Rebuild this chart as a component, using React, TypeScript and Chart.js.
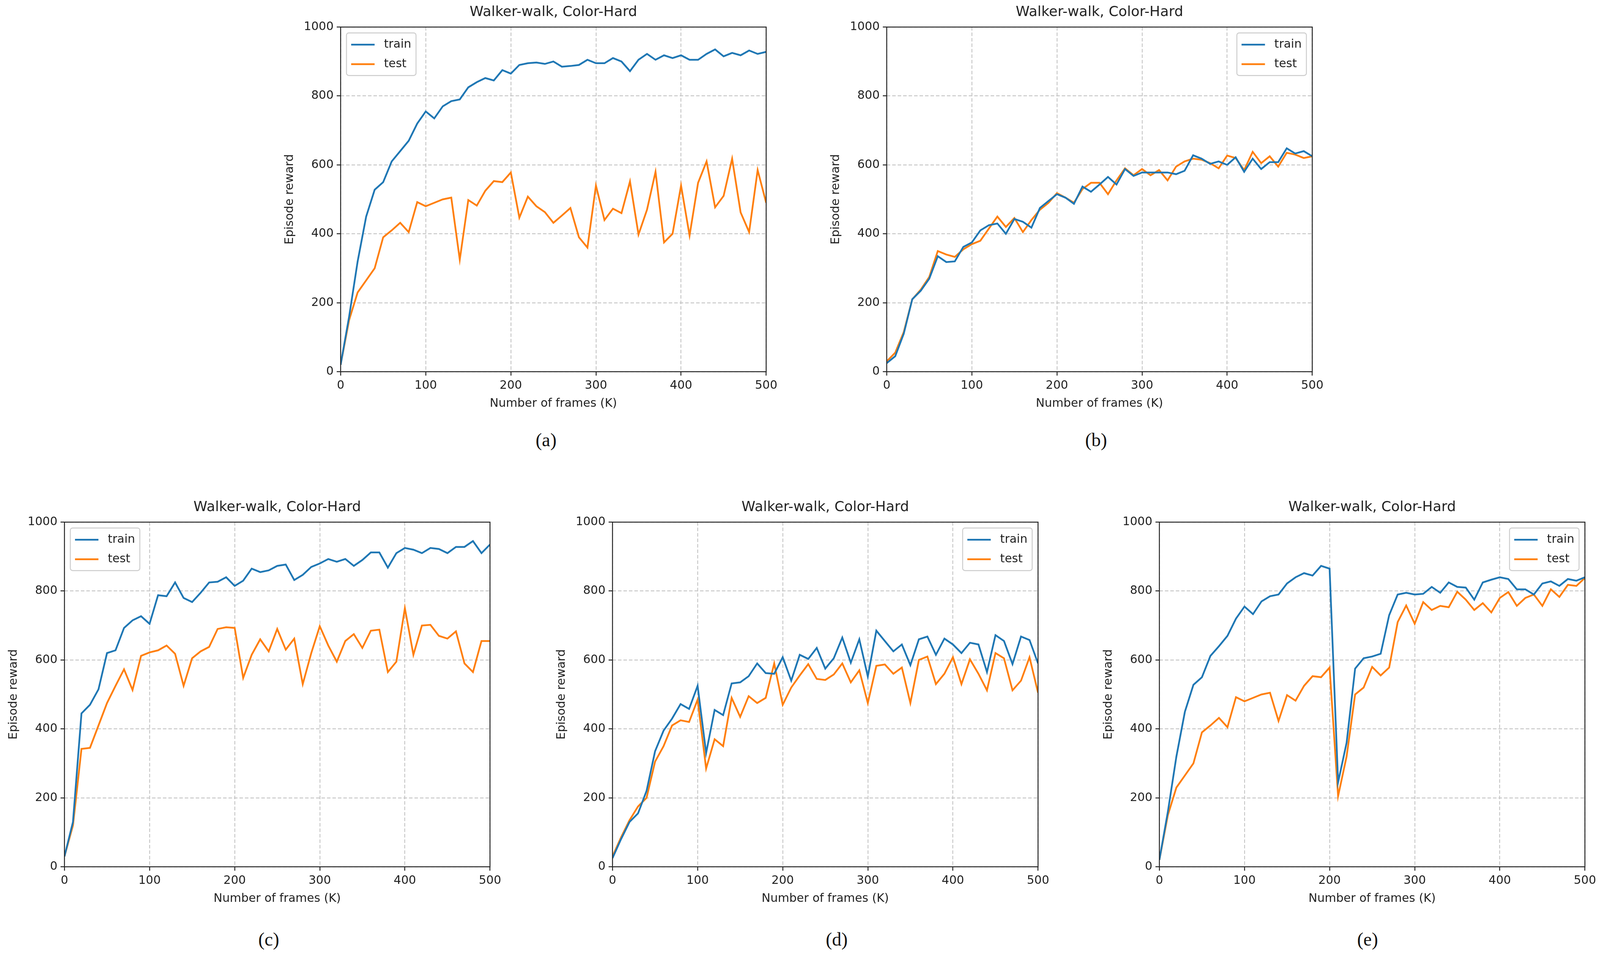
import { useEffect, useRef } from 'react'
import { Chart, ChartConfiguration, registerables } from 'chart.js'

Chart.register(...registerables)

// frames (K) on the x axis, one point every 10K
const frames = [
  0, 10, 20, 30, 40, 50, 60, 70, 80, 90, 100, 110, 120, 130, 140, 150, 160, 170, 180, 190,
  200, 210, 220, 230, 240, 250, 260, 270, 280, 290, 300, 310, 320, 330, 340, 350, 360, 370,
  380, 390, 400, 410, 420, 430, 440, 450, 460, 470, 480, 490, 500,
]

const trainA = [
  20, 160, 320, 450, 528, 550, 610, 640, 670, 720, 755, 735, 770, 785, 790, 825, 840, 852, 845, 875,
  865, 890, 895, 897, 893, 900, 885, 887, 890, 905, 895, 895, 910, 900, 872, 905, 922, 905, 918, 910,
  918, 905, 905, 922, 935, 915, 925, 918, 932, 922, 928,
]
const testA = [
  20, 150, 230, 265, 300, 390, 410, 432, 405, 492, 480, 490, 500, 505, 325, 498, 482, 525, 553, 550,
  578, 447, 508, 480, 463, 432, 453, 475, 390, 360, 540, 440, 473, 460, 552, 398, 470, 580, 375, 400,
  540, 395, 548, 610, 477, 510, 618, 462, 405, 585, 490,
]

const trainB = [
  25, 45, 110, 210, 235, 270, 335, 318, 320, 362, 375, 410, 425, 430, 400, 443, 435, 418, 475, 495,
  515, 505, 487, 537, 522, 543, 565, 543, 588, 568, 578, 578, 578, 578, 573, 583, 628, 618, 603, 610,
  600, 622, 580, 618, 588, 608, 608, 648, 633, 640, 625,
]
const testB = [
  30, 55, 115, 210, 238, 275, 350, 340, 333, 355, 370, 380, 415, 450, 420, 446, 405, 440, 470, 490,
  518, 505, 490, 530, 548, 548, 515, 555, 590, 570, 588, 570, 585, 555, 595, 610, 618, 615, 605, 590,
  627, 620, 585, 638, 605, 625, 595, 635, 630, 620, 625,
]

const trainC = [
  30, 130, 445, 470, 515, 620, 628, 693, 715, 727, 705, 788, 785, 825, 780, 768, 795, 825, 827, 840,
  815, 830, 865, 855, 860, 873, 877, 832, 847, 870, 880, 893, 885, 893, 873, 890, 912, 912, 868, 910,
  925, 920, 910, 925, 922, 910, 928, 928, 945, 910, 935,
]
const testC = [
  30, 120, 342, 345, 410, 475, 525, 573, 513, 612, 622, 628, 642, 618, 525, 605, 625, 638, 690, 695,
  693, 548, 615, 660, 625, 690, 630, 662, 530, 620, 698, 642, 595, 655, 675, 635, 685, 688, 565, 595,
  750, 615, 700, 702, 670, 662, 683, 590, 565, 655, 655,
]

const trainD = [
  25, 80, 130, 155, 220, 335, 395, 430, 472, 458, 525, 330, 455, 440, 532, 535, 553, 590, 562, 560,
  608, 540, 615, 603, 635, 575, 605, 665, 592, 660, 552, 685, 655, 625, 645, 585, 660, 668, 615, 662,
  645, 620, 650, 645, 565, 672, 655, 588, 668, 658, 590,
]
const testD = [
  30, 85, 135, 175, 200, 305, 350, 410, 425, 420, 485, 285, 370, 350, 490, 435, 495, 475, 490, 590,
  470, 520, 555, 588, 545, 542, 558, 590, 535, 570, 475, 583, 587, 560, 578, 475, 600, 610, 530, 560,
  608, 530, 602, 560, 512, 620, 605, 512, 540, 608, 505,
]

const trainE = [
  20, 160, 320, 450, 528, 550, 612, 640, 670, 720, 755, 733, 770, 785, 790, 822, 840, 852, 845, 873,
  865, 245, 360, 575, 605, 610, 618, 730, 790, 795, 790, 792, 812, 795, 825, 812, 810, 775, 825, 833,
  840, 835, 805, 805, 790, 822, 828, 815, 835, 830, 840,
]
const testE = [
  20, 150, 230, 265, 300, 390, 410, 432, 405, 492, 480, 490, 500, 505, 423, 498, 482, 525, 553, 550,
  578, 205, 320, 500, 520, 580, 555, 578, 710, 758, 705, 768, 745, 757, 753, 798, 775, 745, 765, 738,
  780, 797, 757, 780, 790, 757, 805, 783, 818, 815, 838,
]

const TITLE = 'Walker-walk, Color-Hard'
const seriesLabels = ['train', 'test']
const seriesColors = ['#1f77b4', '#ff7f0e']

// layout measured on the 4164px wide reference; the window may be narrower, so x gets squeezed
const REF_W = 4164
const SX = typeof window !== 'undefined' ? Math.min(1, window.innerWidth / REF_W) : 1

const PLOT_W = Math.round(1110 * SX)
const PLOT_H = 882
const Y_AXIS_W = 160
const X_AXIS_H = 110
const TITLE_H = 36 * 1.2 + 10 + 16
const RIGHT_PAD = 34

const FONT = 'DejaVu Sans'
const INK = '#222222'

type Side = 'left' | 'right'

interface PanelSpec {
  tag: string
  left: number
  top: number
  legend: Side
  train: number[]
  test: number[]
  tagX: number
  tagY: number
}

const panels: PanelSpec[] = [
  { tag: '(a)', left: 886, top: 69, legend: 'left', train: trainA, test: testA, tagX: 1421, tagY: 1126 },
  { tag: '(b)', left: 2308, top: 69, legend: 'right', train: trainB, test: testB, tagX: 2853, tagY: 1126 },
  { tag: '(c)', left: 168, top: 1336, legend: 'left', train: trainC, test: testC, tagX: 699, tagY: 2404 },
  { tag: '(d)', left: 1594, top: 1336, legend: 'right', train: trainD, test: testD, tagX: 2178, tagY: 2404 },
  { tag: '(e)', left: 3017, top: 1336, legend: 'right', train: trainE, test: testE, tagX: 3559, tagY: 2404 },
]

// axes frame on all four sides plus a matplotlib-like legend box
function framePlugin(side: Side) {
  return {
    id: 'frameLegend',
    afterDatasetsDraw(chart: Chart) {
      const { ctx, chartArea } = chart
      const { left, top, right, bottom } = chartArea
      ctx.save()
      ctx.strokeStyle = INK
      ctx.lineWidth = 2.4
      ctx.strokeRect(left, top, right - left, bottom - top)

      const boxW = 178
      const boxH = 109
      const bx = side === 'left' ? left + 15 : right - 15 - boxW
      const by = top + 15
      ctx.beginPath()
      ctx.roundRect(bx, by, boxW, boxH, 6)
      ctx.fillStyle = 'rgba(255,255,255,0.8)'
      ctx.fill()
      ctx.strokeStyle = '#cccccc'
      ctx.lineWidth = 2.4
      ctx.stroke()

      ctx.font = `30px "${FONT}"`
      ctx.textBaseline = 'middle'
      ctx.textAlign = 'left'
      seriesLabels.forEach((label, i) => {
        const cy = by + 30 + i * 50
        ctx.beginPath()
        ctx.moveTo(bx + 12, cy)
        ctx.lineTo(bx + 72, cy)
        ctx.strokeStyle = seriesColors[i]
        ctx.lineWidth = 4.5
        ctx.stroke()
        ctx.fillStyle = INK
        ctx.fillText(label, bx + 96, cy)
      })
      ctx.restore()
    },
  }
}

function RewardPanel({ spec }: { spec: PanelSpec }) {
  const canvasRef = useRef<HTMLCanvasElement>(null)
  const chartRef = useRef<Chart | null>(null)

  useEffect(() => {
    if (!canvasRef.current) return
    const ctx = canvasRef.current.getContext('2d')
    if (!ctx) return

    if (chartRef.current) {
      chartRef.current.destroy()
    }

    const gridOpts = {
      color: '#c4c4c4',
      lineWidth: 2.2,
      tickBorderDash: [],
      tickColor: INK,
      tickLength: 10,
      tickWidth: 2.4,
    }
    // in chart.js 4 the grid line dash lives under border
    const borderOpts = { display: false, dash: [9, 5] }
    const tickFont = { family: FONT, size: 30 }

    const config: ChartConfiguration = {
      type: 'line',
      data: {
        datasets: [spec.train, spec.test].map((vals, i) => ({
          label: seriesLabels[i],
          data: frames.map((x, j) => ({ x, y: vals[j] })),
          borderColor: seriesColors[i],
          backgroundColor: seriesColors[i],
          borderWidth: 4.5,
          pointRadius: 0,
          tension: 0,
          fill: false,
        })),
      },
      options: {
        animation: false,
        responsive: true,
        maintainAspectRatio: false,
        devicePixelRatio: 1,
        layout: { padding: { left: 0, right: RIGHT_PAD, top: 0, bottom: 0 } },
        plugins: {
          legend: { display: false },
          tooltip: { enabled: false },
          title: {
            display: true,
            text: TITLE,
            fullSize: false,
            color: INK,
            font: { family: FONT, size: 36, weight: 'normal' },
            padding: { top: 10, bottom: 16 },
          },
        },
        scales: {
          x: {
            type: 'linear',
            min: 0,
            max: 500,
            ticks: {
              stepSize: 100,
              color: INK,
              font: tickFont,
              padding: 8,
              maxRotation: 0,
              callback: (v: any) => String(v),
            },
            grid: gridOpts,
            border: borderOpts,
            title: {
              display: true,
              text: 'Number of frames (K)',
              color: INK,
              font: tickFont,
              padding: { top: 0, bottom: 10 },
            },
            afterFit: (scale: any) => {
              scale.height = X_AXIS_H
            },
          },
          y: {
            type: 'linear',
            min: 0,
            max: 1000,
            ticks: {
              stepSize: 200,
              color: INK,
              font: tickFont,
              padding: 8,
              callback: (v: any) => String(v),
            },
            grid: gridOpts,
            border: borderOpts,
            title: {
              display: true,
              text: 'Episode reward',
              color: INK,
              font: tickFont,
              padding: { top: 12, bottom: 0 },
            },
            afterFit: (scale: any) => {
              scale.width = Y_AXIS_W
            },
          },
        },
      } as any,
      plugins: [framePlugin(spec.legend)],
    }

    chartRef.current = new Chart(ctx, config)

    return () => {
      chartRef.current?.destroy()
      chartRef.current = null
    }
  }, [spec])

  return (
    <div
      style={{
        position: 'absolute',
        left: Math.round(spec.left * SX) - Y_AXIS_W,
        top: spec.top - TITLE_H,
        width: PLOT_W + Y_AXIS_W + RIGHT_PAD,
        height: PLOT_H + TITLE_H + X_AXIS_H,
      }}
    >
      <canvas ref={canvasRef} />
    </div>
  )
}

export default function App() {
  return (
    <div
      style={{
        position: 'fixed',
        left: 0,
        top: 0,
        width: '100vw',
        height: '100vh',
        background: '#ffffff',
        overflow: 'hidden',
      }}
    >
      {panels.map(p => (
        <RewardPanel key={p.tag} spec={p} />
      ))}
      {panels.map(p => (
        <div
          key={p.tag + '-tag'}
          style={{
            position: 'absolute',
            left: Math.round(p.tagX * SX),
            top: p.tagY,
            transform: 'translate(-50%, -50%)',
            fontFamily: '"Liberation Serif", serif',
            fontSize: 48,
            color: '#111',
            lineHeight: 1,
          }}
        >
          {p.tag}
        </div>
      ))}
    </div>
  )
}
